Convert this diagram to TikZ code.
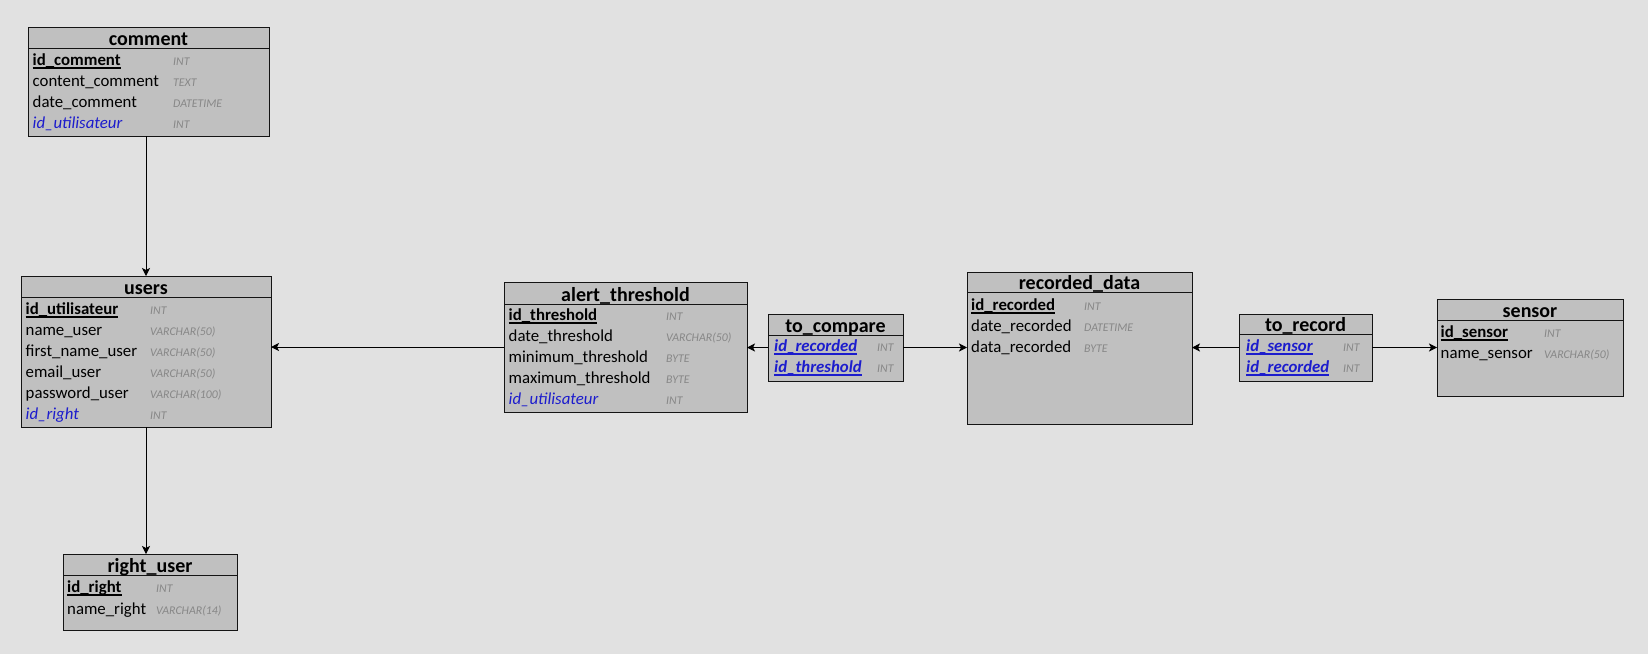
\documentclass[tikz,border=0pt]{standalone}
\usepackage{fontspec}
\setmainfont{Carlito}
\usetikzlibrary{arrows.meta,calc}
\definecolor{bgc}{RGB}{225,225,225}
\definecolor{tblfill}{RGB}{192,192,192}
\definecolor{bordc}{RGB}{20,20,20}
\definecolor{fkblue}{RGB}{28,28,205}
\definecolor{typegray}{RGB}{135,135,135}
\tikzset{
  tbox/.style={draw=bordc, fill=tblfill, line width=1pt, inner sep=0pt, outer sep=0pt, rectangle},
  hline/.style={draw=bordc, line width=1pt},
  htitle/.style={inner sep=0pt, font=\fontsize{20}{24}\selectfont\bfseries, text=black},
  fplain/.style={inner sep=0pt, anchor=base west, font=\fontsize{16.8}{20}\selectfont, text=black},
  fkey/.style={fplain, font=\fontsize{16.8}{20}\selectfont\bfseries},
  ffk/.style={fplain, font=\fontsize{16.8}{20}\selectfont\itshape, text=fkblue},
  fpk/.style={fplain, font=\fontsize{16.8}{20}\selectfont\bfseries\itshape, text=fkblue},
  ftype/.style={inner sep=0pt, anchor=base west, font=\fontsize{11.8}{14}\selectfont\itshape, text=typegray},
  uline/.style={line width=1.4pt, draw=black},
  ulineblue/.style={line width=1.4pt, draw=fkblue},
  conn/.style={draw=black, line width=1pt, -{Stealth[length=8pt,width=8pt,inset=2pt]}}
}
% table: name, x, y, w, h, header height, title
\newcommand\tbl[7]{%
  \node[tbox, minimum width=#4pt, minimum height=#5pt, anchor=north west] (#1) at (#2,#3) {};
  \draw[hline] ([yshift=-#6pt]#1.north west) -- ([yshift=-#6pt]#1.north east);
  \node[htitle, anchor=base] (#1-t) at ([yshift=-#6pt+2.5pt]#1.north) {#7};
}
% field: node name, x, y, type x, style, text, type
\newcommand\fld[7]{%
  \node[#5] (#1) at (#2,#3) {#6};
  \node[ftype] (#1-ty) at (#4,#3) {#7};
}
\newcommand\uln[2]{%
  \draw[#2] ([yshift=-3pt]#1.base west) -- ([yshift=-3pt]#1.base east);
}
\begin{document}
\begin{tikzpicture}[x=1pt,y=-1pt]
\fill[bgc] (0,0) rectangle (1648,654);
\useasboundingbox (0,0) rectangle (1648,654);

% comment
\tbl{comment}{28}{27}{241}{109}{21}{comment}
\fld{c1}{32.5}{65}{173}{fkey}{id\_comment}{INT}
\uln{c1}{uline}
\fld{c2}{32.5}{86}{173}{fplain}{content\_comment}{TEXT}
\fld{c3}{32.5}{107}{173}{fplain}{date\_comment}{DATETIME}
\fld{c4}{32.5}{128}{173}{ffk}{id\_utilisateur}{INT}

% users
\tbl{users}{21}{276}{250}{151}{21}{users}
\fld{u1}{25.5}{314}{150}{fkey}{id\_utilisateur}{INT}
\uln{u1}{uline}
\fld{u2}{25.5}{335}{150}{fplain}{name\_user}{VARCHAR(50)}
\fld{u3}{25.5}{356}{150}{fplain}{first\_name\_user}{VARCHAR(50)}
\fld{u4}{25.5}{377}{150}{fplain}{email\_user}{VARCHAR(50)}
\fld{u5}{25.5}{398}{150}{fplain}{password\_user}{VARCHAR(100)}
\fld{u6}{25.5}{419}{150}{ffk}{id\_right}{INT}

% right_user
\tbl{ruser}{63}{554}{174}{76}{21}{right\_user}
\fld{r1}{67}{592}{156}{fkey}{id\_right}{INT}
\uln{r1}{uline}
\fld{r2}{67}{614}{156}{fplain}{name\_right}{VARCHAR(14)}

% alert_threshold
\tbl{alert}{504}{282}{243}{130}{22}{alert\_threshold}
\fld{a1}{508.5}{320}{666}{fkey}{id\_threshold}{INT}
\uln{a1}{uline}
\fld{a2}{508.5}{341}{666}{fplain}{date\_threshold}{VARCHAR(50)}
\fld{a3}{508.5}{362}{666}{fplain}{minimum\_threshold}{BYTE}
\fld{a4}{508.5}{383}{666}{fplain}{maximum\_threshold}{BYTE}
\fld{a5}{508.5}{404}{666}{ffk}{id\_utilisateur}{INT}

% to_compare
\tbl{cmp}{768}{314}{135}{67}{21}{to\_compare}
\fld{k1}{774}{351}{877}{fpk}{id\_recorded}{INT}
\uln{k1}{ulineblue}
\fld{k2}{774}{372}{877}{fpk}{id\_threshold}{INT}
\uln{k2}{ulineblue}

% recorded_data
\tbl{rec}{967}{272}{225}{152}{20}{recorded\_data}
\fld{d1}{971}{310}{1084}{fkey}{id\_recorded}{INT}
\uln{d1}{uline}
\fld{d2}{971}{331}{1084}{fplain}{date\_recorded}{DATETIME}
\fld{d3}{971}{352}{1084}{fplain}{data\_recorded}{BYTE}

% to_record
\tbl{trec}{1239}{314}{133}{67}{20}{to\_record}
\fld{t1}{1246}{351}{1343}{fpk}{id\_sensor}{INT}
\uln{t1}{ulineblue}
\fld{t2}{1246}{372}{1343}{fpk}{id\_recorded}{INT}
\uln{t2}{ulineblue}

% sensor
\tbl{sensor}{1437}{299}{186}{97}{21}{sensor}
\fld{s1}{1440.5}{337}{1544}{fkey}{id\_sensor}{INT}
\uln{s1}{uline}
\fld{s2}{1440.5}{358}{1544}{fplain}{name\_sensor}{VARCHAR(50)}

% connectors
\draw[conn] (comment.south -| users.north) -- (users.north);
\draw[conn] (users.south) -- (ruser.north -| users.south);
\draw[conn] (alert.west) -- (users.east |- alert.west);
\draw[conn] (cmp.west) -- (alert.east |- cmp.west);
\draw[conn] (cmp.east) -- (rec.west |- cmp.east);
\draw[conn] (trec.west) -- (rec.east |- trec.west);
\draw[conn] (trec.east) -- (sensor.west |- trec.east);
\end{tikzpicture}
\end{document}
